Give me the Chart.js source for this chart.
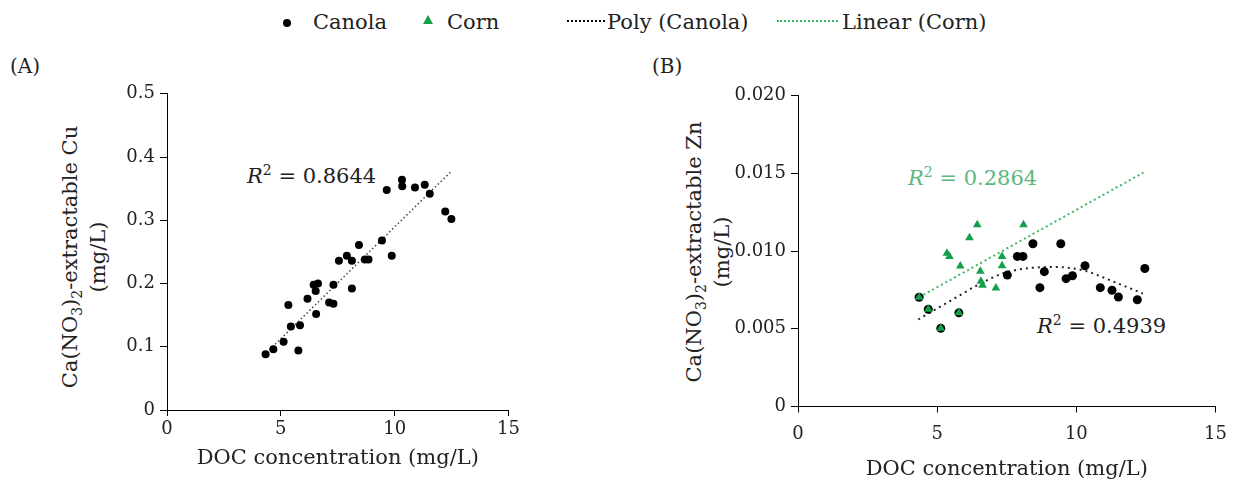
<!DOCTYPE html>
<html>
<head>
<meta charset="utf-8">
<script src="https://cdn.jsdelivr.net/npm/chart.js@4.4.1/dist/chart.umd.min.js"></script>
<style>
  body { margin: 0; background: #fff; font-family: "DejaVu Serif", serif; color: #222; }
  #page { position: relative; width: 1238px; height: 482px; overflow: hidden; }
  .abs { position: absolute; white-space: nowrap; }
  .legend { font-size: 21px; top: 8px; line-height: 28px; }
  .dot { position: absolute; width: 8px; height: 8px; border-radius: 50%; background: #000; }
  .tri { position: absolute; width: 0; height: 0; border-left: 5px solid transparent; border-right: 5px solid transparent; border-bottom: 9px solid #13a04b; }
  .dash { position: absolute; height: 0; border-top: 2.5px dotted #000; }
  .ytitle { font-size: 21px; line-height: 28px; text-align: center; transform: translate(-50%, -50%) rotate(-90deg); }
  .r2 { font-size: 21px; line-height: 26px; }
  sub { font-size: 14px; vertical-align: -5px; line-height: 0; }
  sup { font-size: 14px; vertical-align: 8px; line-height: 0; }
</style>
</head>
<body>
<div id="page">
  <!-- legend -->
  <span class="dot" style="left:283px;top:19px"></span>
  <span class="abs legend" style="left:313px">Canola</span>
  <span class="tri" style="left:423px;top:15px"></span>
  <span class="abs legend" style="left:447px">Corn</span>
  <span class="dash" style="left:567px;top:20px;width:38px"></span>
  <span class="abs legend" style="left:607px">Poly (Canola)</span>
  <span class="dash" style="left:777px;top:20px;width:61px;border-color:#2fb35a"></span>
  <span class="abs legend" style="left:842px">Linear (Corn)</span>

  <span class="abs" style="left:10px;top:54px;font-size:20px">(A)</span>
  <span class="abs" style="left:652px;top:54px;font-size:20px">(B)</span>

  <div class="abs ytitle" style="left:84px;top:257px">Ca(NO<sub>3</sub>)<sub>2</sub>-extractable Cu<br>(mg/L)</div>
  <div class="abs ytitle" style="left:708px;top:252px">Ca(NO<sub>3</sub>)<sub>2</sub>-extractable Zn<br>(mg/L)</div>

  <span class="abs r2" style="left:247px;top:163px"><i>R</i><sup>2</sup> = 0.8644</span>
  <span class="abs r2" style="left:908px;top:165px;color:#5cb87a"><i>R</i><sup>2</sup> = 0.2864</span>
  <span class="abs r2" style="left:1037px;top:313px"><i>R</i><sup>2</sup> = 0.4939</span>

  <div class="abs" style="left:80px;top:78px;width:443px;height:402px"><canvas id="chartA" width="443" height="402"></canvas></div>
  <div class="abs" style="left:690px;top:80px;width:548px;height:402px"><canvas id="chartB" width="548" height="402"></canvas></div>
</div>

<script>
// Panel A: Cu vs DOC (canola)
const cuDoc = [4.33, 4.67, 5.12, 5.77, 5.44, 5.84, 5.33, 6.55, 6.17, 6.53, 6.44, 6.63, 7.12, 7.31, 7.31, 8.12,
  7.55, 7.90, 8.12, 8.43, 8.69, 8.85, 9.44, 9.87, 9.65, 10.32, 10.33, 10.89, 11.32, 11.54, 12.22, 12.49];
const cuVals = [0.088, 0.096, 0.108, 0.094, 0.132, 0.134, 0.166, 0.152, 0.176, 0.188, 0.198, 0.200, 0.170, 0.168, 0.198, 0.192,
  0.236, 0.244, 0.236, 0.261, 0.238, 0.238, 0.268, 0.244, 0.348, 0.364, 0.354, 0.352, 0.356, 0.342, 0.314, 0.302];
const cuTrendDoc = [4.5, 12.5];
const cuTrendVals = [0.095, 0.378];

// Panel B: Zn vs DOC
const canolaDoc = [4.35, 4.68, 5.13, 5.78, 7.52, 7.88, 8.08, 8.44, 8.69, 8.85, 9.44, 9.63, 9.86, 10.31, 10.86, 11.28, 11.51, 12.19, 12.46];
const canolaZn = [0.00703, 0.00626, 0.00503, 0.00603, 0.00846, 0.00966, 0.00966, 0.01048, 0.00765, 0.00868, 0.01048, 0.00823, 0.00842,
  0.00906, 0.00765, 0.00748, 0.00705, 0.00687, 0.00888];
const cornDoc = [4.35, 4.68, 5.13, 5.78, 5.35, 5.44, 5.83, 6.16, 6.44, 6.55, 6.57, 6.63, 7.11, 7.33, 7.33, 8.10];
const cornZn = [0.00703, 0.00626, 0.00503, 0.00603, 0.00987, 0.00966, 0.00904, 0.01086, 0.01170, 0.00870, 0.00806, 0.00780,
  0.00763, 0.00966, 0.00906, 0.01170];
const polyDoc = [4.32, 5.71, 6.55, 7.51, 9.18, 10.26, 11.22, 12.39];
const polyZn = [0.00560, 0.00705, 0.00791, 0.00865, 0.00898, 0.00876, 0.00812, 0.00727];
const linDoc = [4.35, 12.41];
const linZn = [0.00703, 0.01506];

const xTicks = [0, 5, 10, 15];
const FONT = "DejaVu Serif";
const GREEN = "#13a04b";

const pts = (xs, ys) => xs.map((x, i) => ({ x: x, y: ys[i] }));

function axisX(tickPad, titlePad, boxH) {
  return {
    type: "linear", min: 0, max: 15,
    afterBuildTicks: s => { s.ticks = xTicks.map(v => ({ value: v })); },
    afterFit: s => { s.height = boxH; },
    ticks: { color: "#222", font: { family: FONT, size: 18 }, padding: tickPad, callback: v => String(v) },
    grid: { drawOnChartArea: false, tickLength: 6, color: "#000", tickWidth: 1 },
    border: { color: "#000", width: 1 },
    title: { display: true, text: "DOC concentration (mg/L)", color: "#222", font: { family: FONT, size: 21 }, padding: { top: 0, bottom: titlePad } }
  };
}

function axisY(max, step, digits, boxW) {
  return {
    type: "linear", min: 0, max: max,
    afterFit: s => { s.width = boxW; },
    ticks: { stepSize: step, color: "#222", font: { family: FONT, size: 18 }, padding: 5,
      callback: v => v === 0 ? "0" : v.toFixed(digits) },
    grid: { drawOnChartArea: false, tickLength: 7, color: "#000", tickWidth: 1 },
    border: { color: "#000", width: 1 }
  };
}

const common = {
  responsive: false,
  animation: false,
  plugins: { legend: { display: false }, tooltip: { enabled: false } }
};

new Chart(document.getElementById("chartA"), {
  type: "scatter",
  data: {
    datasets: [
      { label: "Canola", data: pts(cuDoc, cuVals), pointStyle: "circle", pointRadius: 4, backgroundColor: "#000", borderColor: "#000", borderWidth: 0 },
      { label: "Linear (Canola)", data: pts(cuTrendDoc, cuTrendVals), showLine: true, pointRadius: 0, borderColor: "#444", borderWidth: 1.5, borderDash: [1.5, 2.5] }
    ]
  },
  options: Object.assign({}, common, {
    layout: { padding: { top: 12, right: 12, left: 0, bottom: 0 } },
    scales: { x: axisX(3, 9, 70), y: axisY(0.5, 0.1, 1, 87) }
  })
});

new Chart(document.getElementById("chartB"), {
  type: "scatter",
  data: {
    datasets: [
      { label: "Corn", data: pts(cornDoc, cornZn), pointStyle: "triangle", pointRadius: 5, backgroundColor: GREEN, borderColor: GREEN, borderWidth: 0 },
      { label: "Canola", data: pts(canolaDoc, canolaZn), pointStyle: "circle", pointRadius: 4.5, backgroundColor: "#000", borderColor: "#000", borderWidth: 0 },
      { label: "Poly (Canola)", data: pts(polyDoc, polyZn), showLine: true, cubicInterpolationMode: "monotone", pointRadius: 0, borderColor: "#222", borderWidth: 2, borderDash: [2, 4] },
      { label: "Linear (Corn)", data: pts(linDoc, linZn), showLine: true, pointRadius: 0, borderColor: "#3cb863", borderWidth: 2, borderDash: [2, 3] }
    ]
  },
  options: Object.assign({}, common, {
    layout: { padding: { top: 12, right: 15, left: 0, bottom: 0 } },
    scales: { x: axisX(11, 0, 75.5), y: axisY(0.02, 0.005, 3, 108) }
  })
});
</script>
</body>
</html>
